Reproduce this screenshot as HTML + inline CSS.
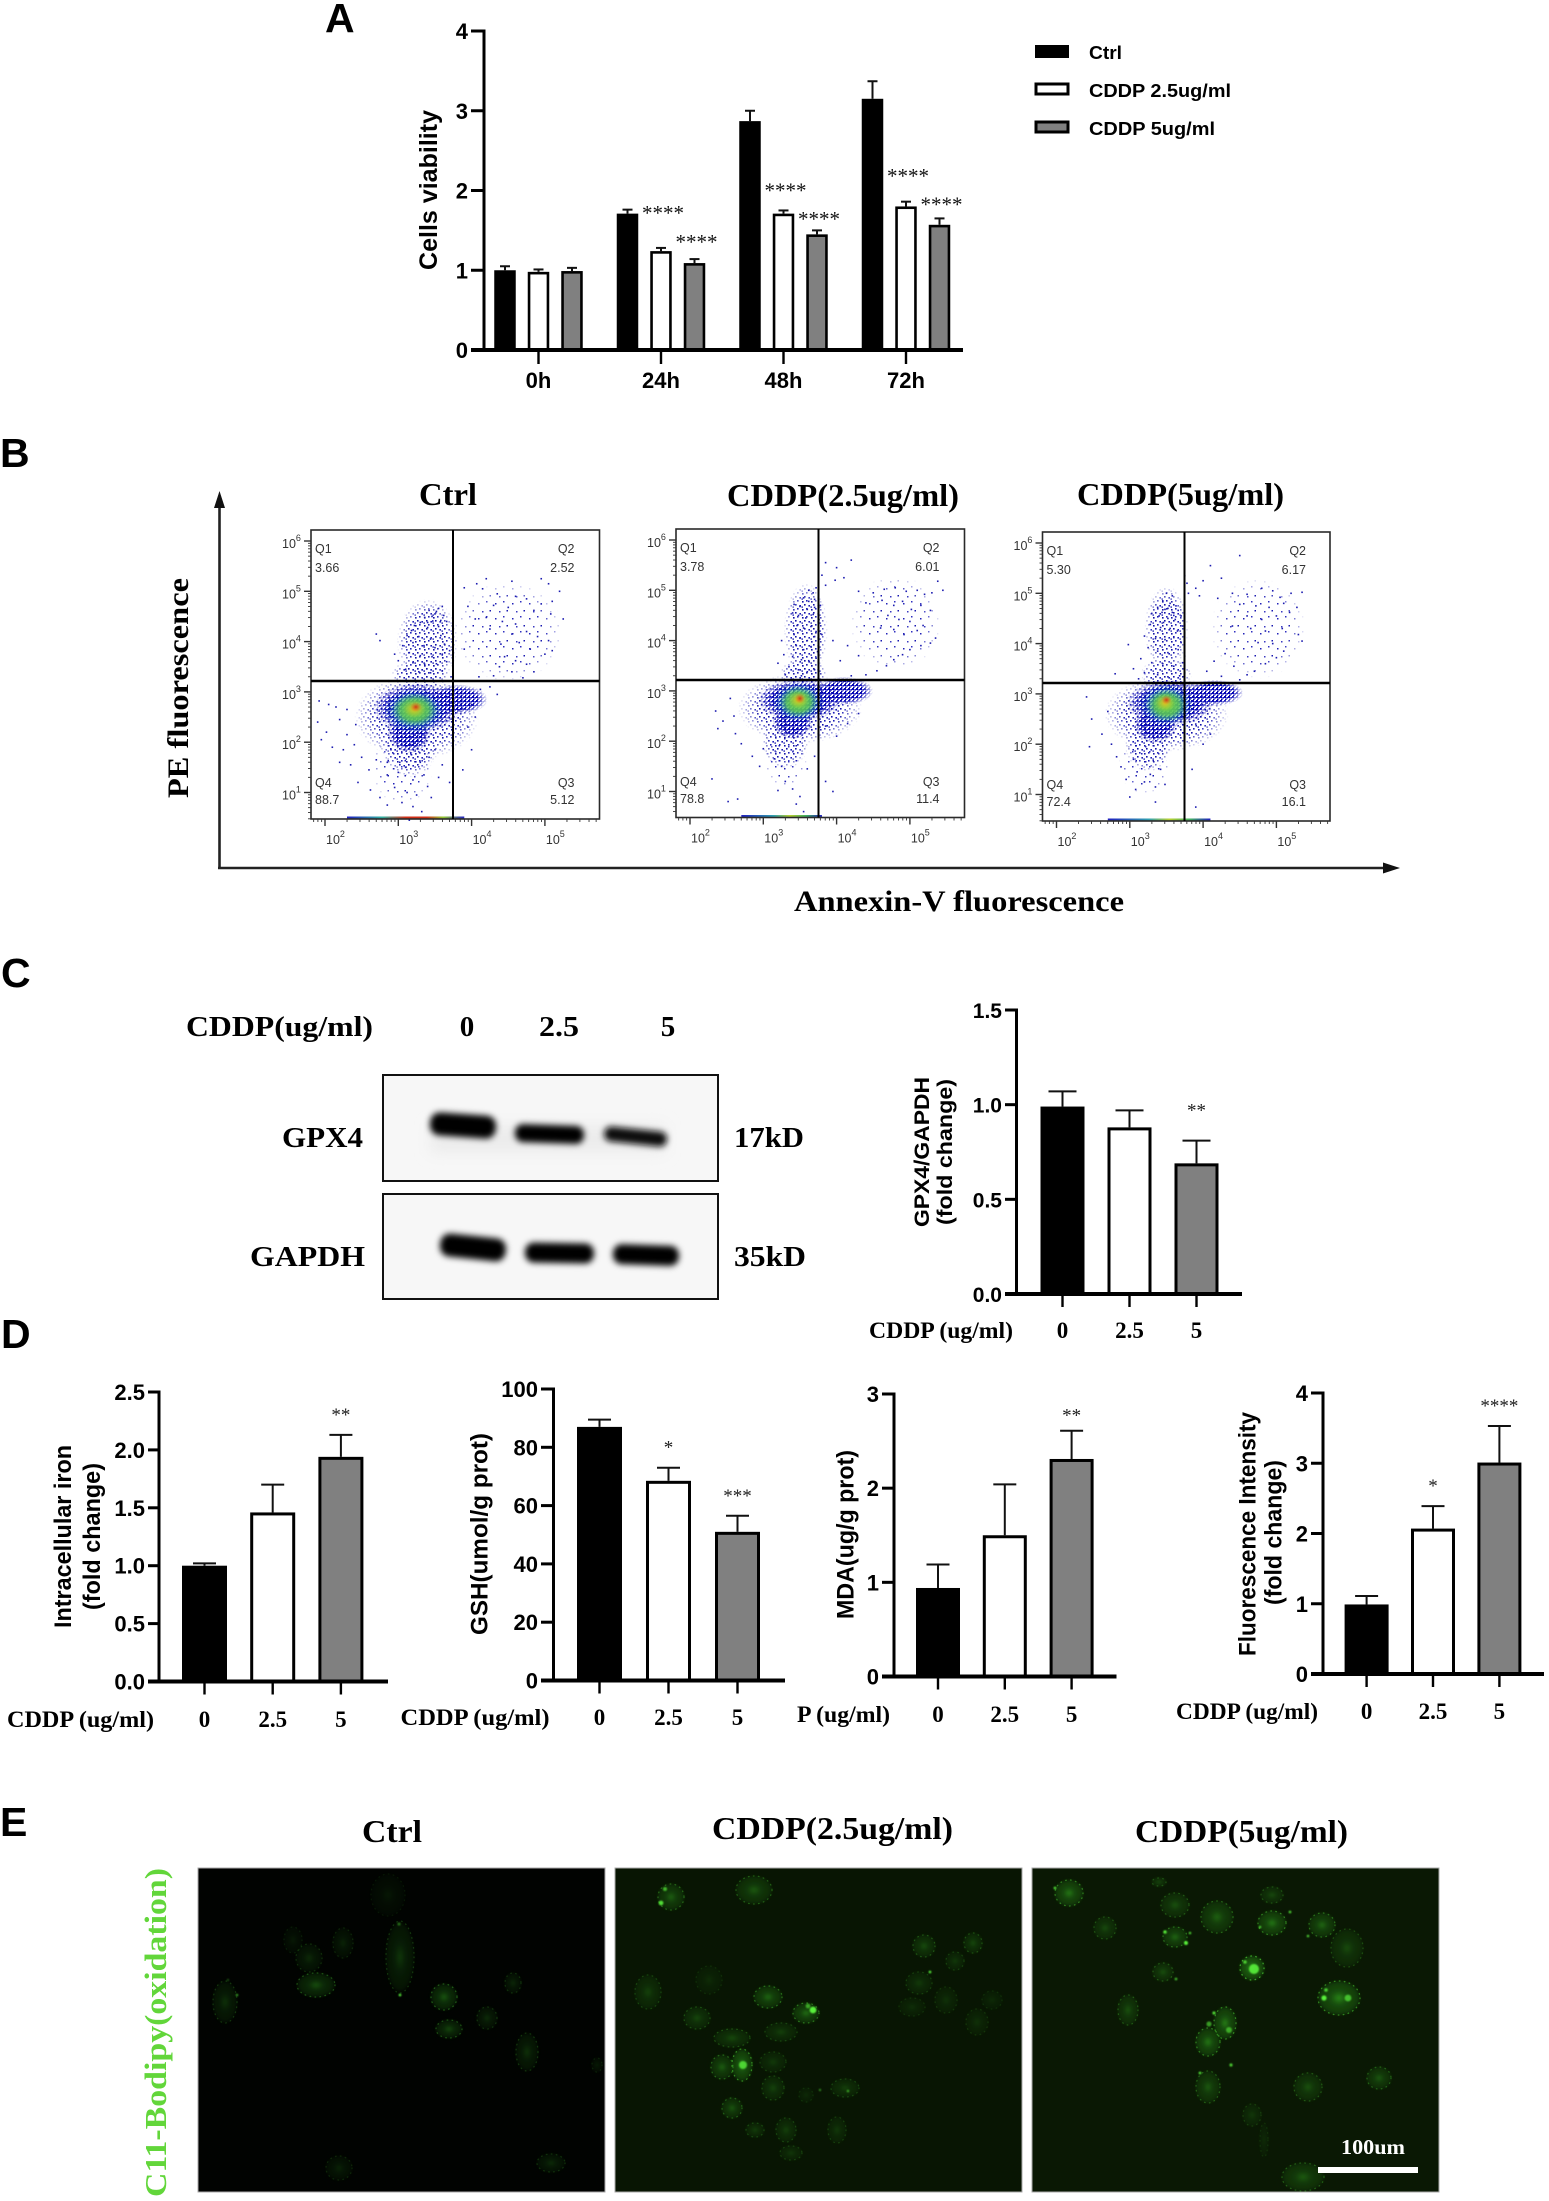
<!DOCTYPE html>
<html lang="en">
<head>
<meta charset="utf-8">
<title>Cisplatin viability, apoptosis and ferroptosis figure</title>
<style>
html,body{margin:0;padding:0;background:#fff}
svg{display:block}
.sans{font-family:"Liberation Sans",sans-serif;font-weight:700;fill:#000}
.serif{font-family:"Liberation Serif",serif;font-weight:700;fill:#000}
.panel-letter{font-family:"Liberation Sans",sans-serif;font-weight:700;font-size:41px;fill:#000}
.title{font-family:"Liberation Serif",serif;font-weight:700;font-size:32px;fill:#000}
.flow{font-family:"Liberation Sans",sans-serif;font-size:12.5px;fill:#333}
</style>
</head>
<body>
<svg id="fig" xmlns="http://www.w3.org/2000/svg" width="1549" height="2201" viewBox="0 0 1549 2201">
<defs>
  <pattern id="dotsFaint" width="17" height="15" patternUnits="userSpaceOnUse">
    <rect x="2" y="3" width="1.5" height="1.5" fill="#2222b8"/><rect x="10" y="1" width="1.5" height="1.5" fill="#3030c0"/>
    <rect x="13.5" y="10" width="1.5" height="1.5" fill="#1818b0"/><rect x="6" y="11" width="1.5" height="1.5" fill="#3a3ac0"/>
  </pattern>
  <pattern id="dotsSparse" width="9" height="8" patternUnits="userSpaceOnUse">
    <rect x="1" y="1" width="1.6" height="1.6" fill="#1414a8"/><rect x="5" y="0" width="1.6" height="1.6" fill="#2020b8"/>
    <rect x="3" y="4" width="1.6" height="1.6" fill="#1010a8"/><rect x="7.4" y="5" width="1.6" height="1.6" fill="#1a1ab8"/>
    <rect x="0.4" y="6.3" width="1.6" height="1.6" fill="#4a4ac0"/>
  </pattern>
  <pattern id="dotsDense" width="4" height="4" patternUnits="userSpaceOnUse">
    <rect x="0" y="0" width="2" height="2" fill="#0606b4"/><rect x="2.4" y="1" width="1.6" height="1.6" fill="#0c0cc0"/>
    <rect x="1" y="2.6" width="1.6" height="1.4" fill="#0404a8"/>
  </pattern>
  <radialGradient id="softEdge"><stop offset="0.65" stop-color="#fff"/><stop offset="1" stop-color="#000"/></radialGradient>
  <mask id="fadeMask" maskContentUnits="objectBoundingBox" x="0" y="0" width="1" height="1"><rect width="1" height="1" fill="url(#softEdge)"/></mask>
  <radialGradient id="lvlTeal"><stop offset="0" stop-color="#28b0a0" stop-opacity=".9"/><stop offset="1" stop-color="#2080c0" stop-opacity="0"/></radialGradient>
  <radialGradient id="lvlGreen"><stop offset="0" stop-color="#78d83c" stop-opacity=".95"/><stop offset=".6" stop-color="#5cc850" stop-opacity=".8"/><stop offset="1" stop-color="#30b088" stop-opacity="0"/></radialGradient>
  <radialGradient id="lvlYellow"><stop offset="0" stop-color="#e0c020"/><stop offset="1" stop-color="#c0d030" stop-opacity="0"/></radialGradient>
  <radialGradient id="lvlRed"><stop offset="0" stop-color="#d03818"/><stop offset="1" stop-color="#e07020" stop-opacity="0"/></radialGradient>
  <linearGradient id="railCtrl"><stop offset="0" stop-color="#2020c0"/><stop offset=".3" stop-color="#30b0a0"/><stop offset=".5" stop-color="#d03018"/><stop offset=".68" stop-color="#d03018"/><stop offset=".82" stop-color="#90c830"/><stop offset="1" stop-color="#2020c0"/></linearGradient>
  <linearGradient id="railLow"><stop offset="0" stop-color="#2020c0"/><stop offset=".4" stop-color="#30a0b0"/><stop offset=".6" stop-color="#b8d030"/><stop offset=".8" stop-color="#40b060"/><stop offset="1" stop-color="#2020c0"/></linearGradient>
  <radialGradient id="cellGlow"><stop offset="0" stop-color="#3ccc24" stop-opacity=".85"/><stop offset=".4" stop-color="#2fa81e" stop-opacity=".5"/><stop offset=".85" stop-color="#2a9a1a" stop-opacity=".38"/><stop offset="1" stop-color="#2a9018" stop-opacity="0"/></radialGradient>
  <filter id="soft1" x="-20%" y="-20%" width="140%" height="140%"><feGaussianBlur stdDeviation="1.4"/></filter>
  <filter id="softSpot" x="-60%" y="-60%" width="220%" height="220%"><feGaussianBlur stdDeviation="0.7"/></filter>
  <filter id="softBand" x="-20%" y="-80%" width="140%" height="260%"><feGaussianBlur stdDeviation="3.2"/></filter>
  <filter id="softFaint" x="-30%" y="-60%" width="160%" height="220%"><feGaussianBlur stdDeviation="7"/></filter>
  <clipPath id="clipMicroCtrl"><rect x="198" y="1868" width="407" height="324"/></clipPath>
  <clipPath id="clipMicro25"><rect x="615" y="1868" width="407" height="324"/></clipPath>
  <clipPath id="clipMicro5"><rect x="1032" y="1868" width="407" height="324"/></clipPath>
</defs>

<rect width="1549" height="2201" fill="#fff"/>

<!-- panel letters -->
<text class="panel-letter" x="325" y="32">A</text>
<text class="panel-letter" x="0" y="467">B</text>
<text class="panel-letter" x="1" y="987">C</text>
<text class="panel-letter" x="1" y="1348">D</text>
<text class="panel-letter" x="0" y="1836">E</text>

<!-- panel A -->
<g id="chartA"></g>
<text class="sans" font-size="25" text-anchor="middle" textLength="160" lengthAdjust="spacingAndGlyphs" transform="translate(437,190) rotate(-90)">Cells viability</text>
<g>
  <rect x="1036" y="46" width="32" height="11" fill="#000" stroke="#000" stroke-width="2"/>
  <text class="sans" font-size="18" x="1089" y="59" textLength="33" lengthAdjust="spacingAndGlyphs">Ctrl</text>
  <rect x="1036" y="84" width="32" height="10" fill="#fff" stroke="#000" stroke-width="3"/>
  <text class="sans" font-size="18" x="1089" y="97" textLength="142" lengthAdjust="spacingAndGlyphs">CDDP 2.5ug/ml</text>
  <rect x="1036" y="122" width="32" height="10" fill="#808080" stroke="#000" stroke-width="3"/>
  <text class="sans" font-size="18" x="1089" y="135" textLength="126" lengthAdjust="spacingAndGlyphs">CDDP 5ug/ml</text>
</g>

<!-- panel B -->
<g>
  <line x1="219.5" y1="868" x2="219.5" y2="505" stroke="#222" stroke-width="2.6"/>
  <polygon points="219.5,491 214,508 225,508" fill="#111"/>
  <line x1="218" y1="868" x2="1386" y2="868" stroke="#222" stroke-width="2.6"/>
  <polygon points="1400,868 1383,862.5 1383,873.5" fill="#111"/>
</g>
<text class="serif" font-size="30" text-anchor="middle" textLength="220" lengthAdjust="spacingAndGlyphs" transform="translate(188,688) rotate(-90)">PE fluorescence</text>
<text class="serif" font-size="30" x="794" y="911" textLength="330" lengthAdjust="spacingAndGlyphs">Annexin-V fluorescence</text>
<text class="title" x="419" y="505" textLength="58" lengthAdjust="spacingAndGlyphs">Ctrl</text>
<text class="title" x="727" y="506" textLength="232" lengthAdjust="spacingAndGlyphs">CDDP(2.5ug/ml)</text>
<text class="title" x="1077" y="505" textLength="207" lengthAdjust="spacingAndGlyphs">CDDP(5ug/ml)</text>
<g id="flowCtrl"></g>
<g id="flow25"></g>
<g id="flow5"></g>

<!-- panel C blot -->
<text class="serif" font-size="29" x="186" y="1036" textLength="187" lengthAdjust="spacingAndGlyphs">CDDP(ug/ml)</text>
<text class="serif" font-size="29" x="467" y="1036" text-anchor="middle">0</text>
<text class="serif" font-size="29" x="559" y="1036" text-anchor="middle" textLength="40" lengthAdjust="spacingAndGlyphs">2.5</text>
<text class="serif" font-size="29" x="668" y="1036" text-anchor="middle">5</text>
<g>
  <rect x="383" y="1075" width="335" height="106" fill="#f7f7f7" stroke="#111" stroke-width="2"/>
  <rect x="430" y="1125" width="235" height="28" fill="#ececec" filter="url(#softFaint)"/>
  <rect x="430" y="1114" width="66" height="23" rx="10" fill="#000" filter="url(#softBand)" transform="rotate(4 463 1125)"/>
  <rect x="515" y="1125" width="69" height="18" rx="8" fill="#000" filter="url(#softBand)" transform="rotate(2 549 1133)"/>
  <rect x="604" y="1129" width="63" height="15" rx="7" fill="#0c0c0c" filter="url(#softBand)" transform="rotate(6 635 1137)"/>
</g>
<g>
  <rect x="383" y="1194" width="335" height="105" fill="#f7f7f7" stroke="#111" stroke-width="2"/>
  <rect x="440" y="1236" width="66" height="23" rx="10" fill="#000" filter="url(#softBand)" transform="rotate(6 473 1247)"/>
  <rect x="525" y="1243" width="69" height="20" rx="9" fill="#000" filter="url(#softBand)" transform="rotate(1 559 1252)"/>
  <rect x="613" y="1245" width="66" height="20" rx="9" fill="#000" filter="url(#softBand)" transform="rotate(2 646 1254)"/>
</g>
<text class="serif" font-size="29" x="282" y="1147" textLength="81" lengthAdjust="spacingAndGlyphs">GPX4</text>
<text class="serif" font-size="29" x="250" y="1266" textLength="115" lengthAdjust="spacingAndGlyphs">GAPDH</text>
<text class="serif" font-size="29" x="734" y="1147" textLength="70" lengthAdjust="spacingAndGlyphs">17kD</text>
<text class="serif" font-size="29" x="734" y="1266" textLength="72" lengthAdjust="spacingAndGlyphs">35kD</text>

<!-- bar charts C and D -->
<g id="chartGpx4"></g>
<text class="sans" font-size="21" text-anchor="middle" textLength="150" lengthAdjust="spacingAndGlyphs" transform="translate(929,1152) rotate(-90)">GPX4/GAPDH</text>
<text class="sans" font-size="21" text-anchor="middle" textLength="146" lengthAdjust="spacingAndGlyphs" transform="translate(952,1152) rotate(-90)">(fold change)</text>
<text class="serif" font-size="23" x="869" y="1338" textLength="144" lengthAdjust="spacingAndGlyphs">CDDP (ug/ml)</text>

<g id="chartIron"></g>
<text class="sans" font-size="24" text-anchor="middle" textLength="183" lengthAdjust="spacingAndGlyphs" transform="translate(71,1536.5) rotate(-90)">Intracellular iron</text>
<text class="sans" font-size="24" text-anchor="middle" textLength="147" lengthAdjust="spacingAndGlyphs" transform="translate(100,1536.5) rotate(-90)">(fold change)</text>
<text class="serif" font-size="23" x="7" y="1727" textLength="147" lengthAdjust="spacingAndGlyphs">CDDP (ug/ml)</text>

<g id="chartGsh"></g>
<text class="sans" font-size="24" text-anchor="middle" textLength="202" lengthAdjust="spacingAndGlyphs" transform="translate(487.5,1534) rotate(-90)">GSH(umol/g prot)</text>
<text class="serif" font-size="23" x="400.5" y="1725" textLength="149" lengthAdjust="spacingAndGlyphs">CDDP (ug/ml)</text>

<g id="chartMda"></g>
<text class="sans" font-size="24" text-anchor="middle" textLength="169" lengthAdjust="spacingAndGlyphs" transform="translate(853.5,1534.5) rotate(-90)">MDA(ug/g prot)</text>
<text class="serif" font-size="23" x="797" y="1722" textLength="93" lengthAdjust="spacingAndGlyphs">P (ug/ml)</text>

<g id="chartFluor"></g>
<text class="sans" font-size="24" text-anchor="middle" textLength="244" lengthAdjust="spacingAndGlyphs" transform="translate(1255.5,1534) rotate(-90)">Fluorescence Intensity</text>
<text class="sans" font-size="24" text-anchor="middle" textLength="145" lengthAdjust="spacingAndGlyphs" transform="translate(1281.5,1532.5) rotate(-90)">(fold change)</text>
<text class="serif" font-size="23" x="1176" y="1719" textLength="142" lengthAdjust="spacingAndGlyphs">CDDP (ug/ml)</text>

<!-- panel E -->
<text class="title" x="362" y="1842" textLength="60" lengthAdjust="spacingAndGlyphs">Ctrl</text>
<text class="title" x="712" y="1839" textLength="241" lengthAdjust="spacingAndGlyphs">CDDP(2.5ug/ml)</text>
<text class="title" x="1135" y="1842" textLength="213" lengthAdjust="spacingAndGlyphs">CDDP(5ug/ml)</text>
<text font-family="'Liberation Serif',serif" font-weight="700" font-size="31" fill="#62d63a" text-anchor="middle" textLength="329" lengthAdjust="spacingAndGlyphs" transform="translate(166,2032.5) rotate(-90)">C11-Bodipy(oxidation)</text>
<g id="microCtrl">
  <rect x="198" y="1868" width="407" height="324" fill="#010301" stroke="#aaa" stroke-width="1"/>
</g>
<g id="micro25">
  <rect x="615" y="1868" width="407" height="324" fill="#081503" stroke="#aaa" stroke-width="1"/>
</g>
<g id="micro5">
  <rect x="1032" y="1868" width="407" height="324" fill="#0a1804" stroke="#aaa" stroke-width="1"/>
</g>
<rect x="1318" y="2167" width="100" height="6" fill="#fff"/>
<text class="serif" style="fill:#fff" font-size="21" x="1341" y="2154" textLength="64" lengthAdjust="spacingAndGlyphs">100um</text>
</svg>

<script>
/* ---------- Panel A data ---------- */
const timeCategories = ['0h', '24h', '48h', '72h'];
const viabilityTicks = [0, 1, 2, 3, 4];
const ctrlMeans = [1.0, 1.71, 2.87, 3.15];
const ctrlTips = [1.05, 1.76, 3.0, 3.37];
const cddp25Means = [0.98, 1.24, 1.71, 1.80];
const cddp25Tips = [1.01, 1.28, 1.75, 1.86];
const cddp5Means = [0.99, 1.09, 1.45, 1.57];
const cddp5Tips = [1.03, 1.14, 1.50, 1.65];
const cddp25StarLevels = [null, 1.755, 2.04, 2.22];
const cddp5StarLevels = [null, 1.39, 1.68, 1.86];
const starTextA = '****';

/* ---------- Panels C, D data ---------- */
const doseCategories = ['0', '2.5', '5'];
const gpx4Means = [0.99, 0.88, 0.69];
const gpx4Tips = [1.07, 0.97, 0.81];
const gpx4Stars = ['', '', '**'];
const gpx4Ticks = ['0.0', '0.5', '1.0', '1.5'];
const ironMeans = [1.0, 1.46, 1.94];
const ironTips = [1.02, 1.70, 2.13];
const ironStars = ['', '', '**'];
const ironTicks = ['0.0', '0.5', '1.0', '1.5', '2.0', '2.5'];
const gshMeans = [87, 68.5, 51];
const gshTips = [89.5, 73, 56.5];
const gshStars = ['', '*', '***'];
const gshTicks = ['0', '20', '40', '60', '80', '100'];
const mdaMeans = [0.94, 1.5, 2.31];
const mdaTips = [1.19, 2.04, 2.61];
const mdaStars = ['', '', '**'];
const mdaTicks = ['0', '1', '2', '3'];
const fluorMeans = [0.99, 2.07, 3.01];
const fluorTips = [1.11, 2.39, 3.53];
const fluorStars = ['', '*', '****'];
const fluorTicks = ['0', '1', '2', '3', '4'];

/* ---------- Panel B data: log10 fluorescence ---------- */
const ctrlQuadrants = ['3.66', '2.52', '5.12', '88.7'];
const cddp25Quadrants = ['3.78', '6.01', '11.4', '78.8'];
const cddp5Quadrants = ['5.30', '6.17', '16.1', '72.4'];
const ctrlEvents = [[3.42,4.62],[3.5,4.55],[3.36,4.48],[3.55,4.66],[3.6,4.7],[3.47,4.41],[3.3,4.38],[3.62,4.52],[3.22,4.32],[3.4,4.28],[3.55,4.3],[3.18,4.22],[3.66,4.4],[3.12,4.12],[3.28,4.1],[3.44,4.05],[3.58,4.12],[3.2,3.98],[3.35,3.92],[3.5,3.88],[3.63,3.95],[3.06,3.92],[3.15,3.78],[3.3,3.72],[3.46,3.7],[3.6,3.75],[3.7,3.82],[3.0,3.62],[3.2,3.58],[3.36,3.55],[3.52,3.56],[3.66,3.6],[2.7,4.15],[2.75,4.02],[2.95,3.75],[3.1,3.45],[3.28,3.4],[3.44,3.38],[3.6,3.42],[3.72,3.3],[3.52,4.6],[3.46,4.5],[3.58,4.42],[3.4,4.38],
[4.2,5.25],[4.07,5.15],[3.9,5.07],[4.15,5.05],[4.55,5.2],[4.95,5.25],[5.05,5.15],[5.2,5.0],[4.35,4.95],[4.6,4.9],[4.75,4.85],[4.95,4.75],[5.1,4.8],[3.95,4.7],[4.3,4.72],[4.5,4.68],[4.85,4.62],[5.08,4.55],[5.25,4.45],[4.05,4.45],[4.2,4.48],[4.42,4.4],[4.6,4.35],[4.75,4.2],[4.55,4.15],[4.9,4.1],[5.05,4.02],[4.25,4.25],[4.4,3.95],[4.65,3.98],[4.8,3.85],[5.0,3.75],[5.1,3.82],[3.9,3.85],[4.45,3.7],[4.6,3.62],[4.75,3.55],[4.38,3.5],[4.55,3.4],[4.85,3.4],[4.1,3.3],[4.3,3.32],[4.7,3.28],
[1.92,2.82],[2.05,2.75],[2.15,2.7],[2.3,2.65],[1.9,2.4],[2.02,2.2],[1.95,2.05],[2.2,2.45],[2.3,2.15],[2.42,2.35],[2.1,1.9],[2.25,1.85],[2.4,1.95],[2.35,1.55],[2.5,1.7],[2.6,1.45],[2.2,1.6],[2.45,1.2],[2.62,1.05],[2.75,0.9],[2.85,0.75],
[2.85,1.35],[3.0,1.4],[3.1,1.5],[3.2,1.25],[3.35,1.35],[2.95,1.1],[3.12,1.0],[3.25,0.95],[3.4,1.12],[3.05,0.8],[3.2,0.72],[3.32,0.62],[3.45,0.9],[3.55,1.3],[3.6,1.55],[3.7,1.2],[3.15,0.45],[3.02,1.6],[3.18,1.75],[3.3,1.6],[3.42,1.7],[2.85,1.6],[2.7,1.65],[2.9,1.85],[3.5,1.85],
[3.9,2.9],[4.0,2.75],[4.12,3.05],[4.25,3.1],[4.35,2.95],[4.05,2.5],[3.95,2.3],[4.0,1.85],[3.88,1.45]];
const cddp25Events = [[3.62,5.0],[3.68,4.95],[3.72,5.05],[3.55,4.85],[3.62,4.78],[3.7,4.82],[3.42,4.72],[3.5,4.68],[3.6,4.62],[3.7,4.66],[3.78,4.7],[3.4,4.55],[3.48,4.5],[3.58,4.45],[3.68,4.52],[3.76,4.42],[3.46,4.3],[3.55,4.25],[3.65,4.28],[3.72,4.18],[3.42,4.12],[3.5,4.05],[3.6,4.0],[3.7,4.08],[3.8,4.12],[3.25,4.0],[3.45,3.9],[3.55,3.82],[3.65,3.88],[3.74,3.78],[3.28,3.72],[3.4,3.68],[3.52,3.62],[3.62,3.6],[3.72,3.65],[3.2,3.55],[3.35,3.48],[3.48,3.42],[3.6,3.38],[3.7,3.42],[3.3,3.32],[3.52,3.3],
[3.85,5.1],[3.98,5.2],[4.0,5.45],[3.85,5.55],[4.2,5.6],[3.8,5.3],[4.1,5.25],
[4.3,4.98],[4.5,4.95],[4.65,5.02],[4.8,5.05],[4.95,4.98],[5.1,5.0],[5.2,4.92],[5.3,4.95],[5.38,5.18],[5.45,5.0],[4.4,4.75],[4.62,4.8],[4.78,4.7],[4.9,4.78],[5.02,4.62],[5.15,4.7],[5.28,4.6],[4.7,4.5],[4.85,4.42],[5.0,4.38],[5.18,4.3],[4.6,4.25],[4.78,4.22],[4.92,4.12],[5.1,4.2],[5.35,4.05],[5.28,3.95],[5.15,3.9],[5.0,3.82],[4.9,3.72],[4.78,3.62],[4.68,3.5],[4.55,3.4],[4.4,3.32],[4.2,3.3],[4.05,3.6],[4.15,3.9],[3.95,4.0],[4.3,3.7],
[2.35,2.6],[2.45,2.4],[2.38,2.25],[2.55,2.85],[2.6,2.5],[2.62,2.15],[2.7,1.95],[2.85,1.7],[2.95,1.5],[3.0,1.85],[3.15,1.65],[3.25,1.5],[3.3,1.2],[3.4,1.05],[3.5,0.9],[3.45,0.75],[3.55,0.6],[3.2,1.02],[2.65,0.85],[2.52,0.8],[2.3,1.25],[3.6,1.45],[3.7,1.7],[3.95,1.0],[3.85,1.2],[4.0,2.1],[3.85,2.3],[4.15,2.35],[4.3,2.55]];
const cddp5Events = [[3.5,5.0],[3.58,4.95],[3.45,4.85],[3.55,4.8],[3.63,4.75],[3.38,4.72],[3.48,4.68],[3.58,4.62],[3.66,4.66],[3.3,4.6],[3.4,4.55],[3.52,4.5],[3.62,4.48],[3.7,4.55],[3.28,4.38],[3.42,4.32],[3.55,4.3],[3.65,4.25],[3.72,4.35],[3.2,4.15],[3.35,4.1],[3.48,4.08],[3.6,4.12],[3.7,4.02],[3.25,3.92],[3.38,3.85],[3.52,3.82],[3.66,3.88],[3.75,3.75],[2.98,3.98],[3.15,3.7],[3.3,3.62],[3.45,3.6],[3.6,3.55],[3.72,3.62],[2.8,3.4],[3.05,3.5],[3.2,3.42],[3.38,3.38],[3.52,3.34],[3.68,3.36],[3.12,3.3],[3.44,4.62],[3.52,4.7],[3.6,4.56],[3.46,4.42],
[3.78,5.2],[3.75,5.35],[3.9,5.1],[4.0,5.25],[4.1,5.55],[4.5,5.75],[4.25,5.3],[3.8,5.0],[3.95,4.95],[4.2,4.9],
[4.4,5.0],[4.6,4.98],[4.8,5.1],[4.95,5.05],[5.05,4.92],[5.2,5.0],[5.35,5.02],[4.5,4.78],[4.72,4.75],[4.9,4.72],[5.1,4.8],[5.28,4.72],[4.6,4.55],[4.8,4.48],[5.0,4.55],[5.18,4.62],[4.4,4.35],[4.65,4.3],[4.85,4.25],[5.08,4.3],[5.3,4.18],[5.35,4.05],[4.95,4.0],[4.75,4.02],[5.1,3.85],[5.0,3.72],[4.85,3.6],[4.7,3.45],[4.6,3.38],[4.42,3.55],[4.3,3.8],[4.15,3.65],[4.05,3.45],[4.25,3.35],[4.5,3.28],
[2.41,2.94],[2.48,2.5],[2.62,2.2],[2.45,1.95],[2.7,2.65],[2.75,2.0],[2.82,1.75],[2.88,1.55],[2.95,1.3],[3.05,1.7],[3.1,1.45],[3.2,1.25],[3.08,1.1],[3.28,1.4],[3.35,1.15],[3.42,1.5],[3.48,1.2],[3.0,0.95],[3.35,0.85],[3.85,1.5],[3.9,0.75],[4.0,2.0],[4.1,2.2],[3.9,2.4]];
/* density contours: log x, log y, half-width and half-height in decades, density level */
const ctrlDensity = [[4.5,4.2,0.75,1.0,6],[3.4,4.0,0.42,0.85,0],[3.05,1.5,0.42,0.75,6],[3.25,2.5,0.85,0.85,0],[3.15,1.9,0.38,0.6,0],[3.3,3.35,0.4,0.3,0],[3.25,2.68,0.6,0.5,1],[3.8,2.85,0.42,0.3,1],[3.15,2.2,0.3,0.42,1],[3.22,2.62,0.42,0.45,2],[3.22,2.64,0.32,0.34,3],[3.22,2.66,0.16,0.18,4],[3.24,2.7,0.08,0.1,5]];
const cddp25Density = [[4.8,4.35,0.62,0.95,6],[3.58,4.2,0.3,0.95,0],[3.3,1.7,0.3,0.65,6],[3.5,2.65,0.85,0.7,0],[3.3,2.0,0.32,0.55,0],[3.55,3.35,0.32,0.3,0],[3.5,2.82,0.58,0.42,1],[4.1,3.0,0.4,0.28,1],[3.4,2.4,0.28,0.36,1],[3.48,2.78,0.36,0.4,2],[3.48,2.78,0.27,0.32,3],[3.48,2.82,0.14,0.17,4],[3.5,2.85,0.07,0.1,5]];
const cddp5Density = [[4.75,4.3,0.65,1.0,6],[3.5,4.3,0.3,0.85,0],[3.2,1.6,0.35,0.6,6],[3.5,2.6,0.85,0.75,0],[3.25,2.0,0.32,0.55,0],[3.5,3.4,0.35,0.32,0],[3.55,2.82,0.6,0.46,1],[4.15,3.02,0.4,0.26,1],[3.35,2.4,0.3,0.38,1],[3.5,2.78,0.38,0.42,2],[3.5,2.78,0.28,0.33,3],[3.48,2.82,0.14,0.17,4],[3.5,2.88,0.07,0.09,5]];

/* ---------- Panel E: fluorescent cell spots seen in each micrograph ---------- */
const microCtrlCells = [[388,1895,18,22,.12],[293,1940,10,14,.14],[343,1943,11,16,.2],[309,1958,14,15,.24],[400,1957,15,37,.3],[316,1985,20,13,.45],[225,2002,13,22,.28],[444,1997,14,14,.5],[513,1983,9,11,.24],[487,2018,11,12,.26],[449,2029,14,10,.42],[527,2052,12,20,.28],[597,2065,6,8,.16],[339,2168,14,13,.2],[551,2163,15,10,.25]];
const microCtrlSpots = [[400,1995,1.4,.9],[399,1924,1.6,.4],[237,1995,1.3,.6],[228,1980,1.2,.3]];
const micro25Cells = [[671,1897,14,14,.5],[754,1890,19,15,.45],[648,1992,14,18,.3],[709,1980,14,15,.16],[768,1997,15,12,.55],[806,2013,14,11,.6],[697,2018,14,12,.35],[781,2032,17,10,.3],[732,2038,19,10,.36],[722,2067,12,13,.5],[742,2065,11,17,.75],[773,2062,14,11,.26],[773,2088,12,13,.32],[845,2088,15,10,.3],[806,2095,8,8,.16],[732,2108,11,11,.45],[755,2130,10,8,.3],[786,2130,11,13,.3],[837,2130,10,14,.25],[791,2153,12,8,.25],[924,1946,12,12,.38],[973,1943,10,11,.36],[955,1961,10,10,.26],[919,1983,14,12,.26],[946,2000,12,14,.2],[912,2007,14,10,.18],[992,2000,11,10,.16],[977,2022,12,14,.2]];
const micro25Spots = [[813,2010,3.4,1],[808,2006,2.4,.6],[743,2065,4,.8],[661,1903,2.4,.9],[665,1889,2,.7],[930,1972,1.4,.9],[848,2091,1.3,.6],[820,2090,1.2,.5]];
const micro5Cells = [[1069,1893,15,14,.65],[1159,1882,8,5,.35],[1175,1905,15,13,.4],[1217,1917,17,17,.5],[1272,1895,12,9,.36],[1272,1923,15,13,.65],[1322,1925,14,13,.55],[1105,1928,12,12,.36],[1175,1937,13,11,.55],[1347,1948,17,20,.34],[1252,1968,13,13,.9],[1163,1972,11,10,.4],[1339,1998,22,18,.72],[1128,2010,11,16,.4],[1225,2023,12,17,.7],[1208,2042,13,15,.65],[1208,2087,13,17,.45],[1308,2087,15,15,.4],[1379,2078,13,12,.45],[1252,2115,10,12,.24],[1264,2140,5,18,.15],[1303,2177,22,15,.45]];
const micro5Spots = [[1186,1943,2,1],[1165,1932,1.8,.9],[1254,1969,5,.9],[1245,1962,1.8,.8],[1324,1998,2.6,1],[1326,1990,1.8,.8],[1348,1998,3.4,.7],[1214,2013,1.6,.9],[1231,2065,1.6,.8],[1229,2030,3,.6],[1200,2073,1.4,.9],[1190,1933,1.3,.8],[1260,1927,1.3,.8],[1290,1912,1.4,.8],[1308,1936,1.3,.8],[1055,1888,1.4,.9],[1176,1979,1.4,.7],[1209,2024,2.6,.6],[1320,2170,1.3,.6]];

/* ---------- helpers ---------- */
const NS = 'http://www.w3.org/2000/svg';
function mk(parent, tag, attrs, text) {
  const node = document.createElementNS(NS, tag);
  for (const k in attrs) node.setAttribute(k, attrs[k]);
  if (text !== undefined) node.textContent = text;
  parent.appendChild(node);
  return node;
}
const SANS = '"Liberation Sans",sans-serif';
const SERIF = '"Liberation Serif",serif';

function drawAxes(g, o, y, tickVals, tickLabels) {
  let el = mk(g, 'line', {x1: o.axisX, y1: o.y0 + 1, x2: o.axisX, y2: o.yTop - 1.5, stroke: '#000', 'stroke-width': 3});
  
  
  tickVals.forEach((v, i) => {
    let t = mk(g, 'line', {x1: o.tickLeft, y1: y(v), x2: o.axisX, y2: y(v), stroke: '#000', 'stroke-width': 3});
    
    
    let l = mk(g, 'text', {x: o.tickLeft - 3, y: y(v) + 8, 'text-anchor': 'end', 'font-family': SANS, 'font-weight': 700, 'font-size': o.tickSize || 22}, tickLabels[i]);
    
    
  });
  el = mk(g, 'line', {x1: o.tickLeft, y1: o.y0, x2: o.xRight, y2: o.y0, stroke: '#000', 'stroke-width': 4});
  
  
}

function drawBar(g, cx, w, y, mean, tip, y0, capW, fill, sw) {
  const top = y(mean);
  let e = mk(g, 'line', {x1: cx, y1: top, x2: cx, y2: y(tip), stroke: '#111', 'stroke-width': 2});
  
  
  let c = mk(g, 'line', {x1: cx - capW / 2, y1: y(tip), x2: cx + capW / 2, y2: y(tip), stroke: '#111', 'stroke-width': 2});
  
  
  let b = mk(g, 'rect', {x: cx - w / 2 + sw / 2, y: top + sw / 2, width: w - sw, height: Math.max(0, y0 - top - sw / 2), fill: fill, stroke: '#000', 'stroke-width': sw});
  
  
}

const seriesFills = ['#000', '#fff', '#808080'];

/* small three-bar charts in panels C and D */
function doseChart(id, o, categories, means, tips, stars, ticks) {
  const g = document.getElementById(id);
  const yMax = parseFloat(ticks[ticks.length - 1]);
  const y = v => o.y0 - (v / yMax) * (o.y0 - o.yTop);
  const x = i => o.firstCenter + i * o.step;
  means.forEach((m, i) => drawBar(g, x(i), o.barW, y, m, tips[i], o.y0, o.capW, seriesFills[i], 3));
  drawAxes(g, o, y, ticks.map(parseFloat), ticks);
  categories.forEach((c, i) => {
    let t = mk(g, 'line', {x1: x(i), y1: o.y0, x2: x(i), y2: o.y0 + o.tickDown, stroke: '#000', 'stroke-width': 2.4});
    
    
    let l = mk(g, 'text', {x: x(i), y: o.labelY, 'text-anchor': 'middle', 'font-family': SERIF, 'font-weight': 700, 'font-size': 23}, c);
    
    
    if (stars[i]) {
      let s = mk(g, 'text', {x: x(i), y: y(tips[i]) - o.starGap + 9, 'text-anchor': 'middle', 'font-family': SERIF, 'font-size': 19, fill: '#222'}, stars[i]);
      
      
    }
  });
}

doseChart('chartGpx4', {axisX: 1016.5, tickLeft: 1005, xRight: 1242, y0: 1294, yTop: 1010, firstCenter: 1062.5, step: 67, barW: 44, capW: 28, tickDown: 13, labelY: 1338, starGap: 33, tickSize: 21}, doseCategories, gpx4Means, gpx4Tips, gpx4Stars, gpx4Ticks);
doseChart('chartIron', {axisX: 159, tickLeft: 148, xRight: 388, y0: 1681.5, yTop: 1392, firstCenter: 204.5, step: 68.2, barW: 45, capW: 23, tickDown: 13, labelY: 1727, starGap: 23}, doseCategories, ironMeans, ironTips, ironStars, ironTicks);
doseChart('chartGsh', {axisX: 553.5, tickLeft: 541, xRight: 785, y0: 1680.5, yTop: 1389, firstCenter: 599.5, step: 69, barW: 45, capW: 23, tickDown: 13, labelY: 1725, starGap: 23}, doseCategories, gshMeans, gshTips, gshStars, gshTicks);
doseChart('chartMda', {axisX: 894, tickLeft: 882, xRight: 1116.5, y0: 1676.5, yTop: 1394, firstCenter: 938, step: 66.8, barW: 44, capW: 23, tickDown: 13, labelY: 1722, starGap: 18}, doseCategories, mdaMeans, mdaTips, mdaStars, mdaTicks);
doseChart('chartFluor', {axisX: 1323, tickLeft: 1311, xRight: 1544, y0: 1674, yTop: 1393, firstCenter: 1366.6, step: 66.4, barW: 44, capW: 23, tickDown: 13, labelY: 1719, starGap: 23}, doseCategories, fluorMeans, fluorTips, fluorStars, fluorTicks);

/* panel A grouped chart */
(function () {
  const g = document.getElementById('chartA');
  const o = {axisX: 484, tickLeft: 471, xRight: 963, y0: 350, yTop: 31};
  const y = v => o.y0 - (v / 4) * (o.y0 - o.yTop);
  const groupX = i => 538.5 + i * 122.5;
  const offset = s => (s - 1) * 33.5;
  const means = [ctrlMeans, cddp25Means, cddp5Means];
  const tips = [ctrlTips, cddp25Tips, cddp5Tips];
  means.forEach((series, s) => series.forEach((m, i) => drawBar(g, groupX(i) + offset(s), 21.5, y, m, tips[s][i], o.y0, 10, seriesFills[s], 2.6)));
  drawAxes(g, o, y, viabilityTicks, viabilityTicks.map(String));
  timeCategories.forEach((c, i) => {
    let t = mk(g, 'line', {x1: groupX(i), y1: o.y0, x2: groupX(i), y2: o.y0 + 14, stroke: '#000', 'stroke-width': 2.4});
    
    
    let l = mk(g, 'text', {x: groupX(i), y: 388, 'text-anchor': 'middle', 'font-family': SANS, 'font-weight': 700, 'font-size': 22}, c);
    
    
  });
  [[cddp25StarLevels, 1], [cddp5StarLevels, 2]].forEach(pair => pair[0].forEach((lvl, i) => {
    if (lvl === null) return;
    let s = mk(g, 'text', {x: groupX(i) + offset(pair[1]) + 2, y: y(lvl) + 10, 'text-anchor': 'middle', 'font-family': SERIF, 'font-size': 21, fill: '#111'}, starTextA);
    
    
  }));
})();

/* panel B flow plots */
function flowPlot(id, box, events, density, quadrants, railFill, railX0, railX1) {
  const g = document.getElementById(id);
  const px = lx => box.l + 14 + (lx - 2) * 73.3;
  const py = ly => box.t + 11 + (6 - ly) * 50.3;
  const rx = d => d * 73.3;
  const ry = d => d * 50.3;
  const fills = ['url(#dotsSparse)', 'url(#dotsDense)', 'url(#lvlTeal)', 'url(#lvlGreen)', 'url(#lvlYellow)', 'url(#lvlRed)', 'url(#dotsFaint)'];
  density.forEach(d => {
    const attrs = {cx: px(d[0]), cy: py(d[1]), rx: rx(d[2]), ry: ry(d[3]), fill: fills[d[4]]};
    if (d[4] < 2 || d[4] === 6) attrs.mask = 'url(#fadeMask)';
    let c = mk(g, 'ellipse', attrs);
    
    
  });
  events.forEach(p => {
    let dot = mk(g, 'rect', {x: px(p[0]) - 0.8, y: py(p[1]) - 0.8, width: 1.6, height: 1.6, fill: '#1c1cb0'});
    
    
  });
  let rail = mk(g, 'rect', {x: px(railX0), y: box.b - 2.5, width: px(railX1) - px(railX0), height: 2.5, fill: railFill});
  
  
  let frame = mk(g, 'rect', {x: box.l, y: box.t, width: box.r - box.l, height: box.b - box.t, fill: 'none', stroke: '#2a2a2a', 'stroke-width': 1.6});
  
  
  let gateV = mk(g, 'line', {x1: box.vx, y1: box.t, x2: box.vx, y2: box.b, stroke: '#000', 'stroke-width': 2});
  
  
  let gateH = mk(g, 'line', {x1: box.l, y1: box.hy, x2: box.r, y2: box.hy, stroke: '#000', 'stroke-width': 2.4});
  
  

  const logTopY = 6 + 11 / 50.3, logBottomY = 6 - (box.b - box.t - 11) / 50.3;
  const logLeftX = 2 - 14 / 73.3, logRightX = 2 + (box.r - box.l - 14) / 73.3;
  for (let d = 0; d <= 6; d++) for (let m = 1; m <= 9; m++) {
    const v = d + Math.log10(m);
    if (v <= logTopY && v >= logBottomY) {
      let t = mk(g, 'line', {x1: box.l - (m === 1 ? 7 : 3), y1: py(v), x2: box.l, y2: py(v), stroke: '#333', 'stroke-width': m === 1 ? 1.4 : 0.9});
      
      
    }
    if (v <= logRightX && v >= logLeftX) {
      let t = mk(g, 'line', {x1: px(v), y1: box.b, x2: px(v), y2: box.b + (m === 1 ? 7 : 3), stroke: '#333', 'stroke-width': m === 1 ? 1.4 : 0.9});
      
      
    }
  }
  [1, 2, 3, 4, 5, 6].forEach(d => {
    let t = mk(g, 'text', {x: box.l - 29, y: py(d) + 7, class: 'flow', 'font-size': 12}, '10');
    mk(t, 'tspan', {dy: -7, 'font-size': 9}, String(d));
    
    
  });
  [2, 3, 4, 5].forEach(d => {
    let t = mk(g, 'text', {x: px(d) + 1, y: box.b + 25, class: 'flow', 'font-size': 12}, '10');
    mk(t, 'tspan', {dy: -7, 'font-size': 9}, String(d));
    
    
  });
  const names = ['Q1', 'Q2', 'Q3', 'Q4'];
  const placeLeft = [true, false, false, true];
  const rowTop = [true, true, false, false];
  names.forEach((n, i) => {
    const tx = placeLeft[i] ? box.l + 4 : box.l + 263.5;
    const anchor = placeLeft[i] ? 'start' : 'end';
    const y1 = box.t + (rowTop[i] ? 23 : 257);
    const y2 = box.t + (rowTop[i] ? 42 : 274);
    let a = mk(g, 'text', {x: tx, y: y1, 'text-anchor': anchor, class: 'flow'}, n);
    
    
    let b = mk(g, 'text', {x: tx, y: y2, 'text-anchor': anchor, class: 'flow'}, quadrants[i]);
    
    
  });
}
flowPlot('flowCtrl', {l: 311, r: 599.5, t: 530, b: 819, vx: 453, hy: 681}, ctrlEvents, ctrlDensity, ctrlQuadrants, 'url(#railCtrl)', 2.3, 3.9);
flowPlot('flow25', {l: 676, r: 964.5, t: 529, b: 817.5, vx: 818.5, hy: 680}, cddp25Events, cddp25Density, cddp25Quadrants, 'url(#railLow)', 2.7, 3.8);
flowPlot('flow5', {l: 1042.5, r: 1330, t: 532, b: 821, vx: 1184.5, hy: 683}, cddp5Events, cddp5Density, cddp5Quadrants, 'url(#railLow)', 2.7, 4.1);

/* panel E micrographs */
function micrograph(id, clip, cells, spots) {
  const root = document.getElementById(id);
  const g = mk(root, 'g', {'clip-path': 'url(#' + clip + ')'});
  
  
  cells.forEach(c => {
    let e = mk(g, 'ellipse', {cx: c[0], cy: c[1], rx: c[2], ry: c[3], fill: 'url(#cellGlow)', opacity: c[4], filter: 'url(#soft1)'});
    
    
    let rim = mk(g, 'ellipse', {cx: c[0], cy: c[1], rx: c[2] - 1, ry: c[3] - 1, fill: 'none', stroke: '#4ed838', 'stroke-width': 1.3, 'stroke-linecap': 'round', 'stroke-dasharray': '0.6 4.4', opacity: c[4] * 0.75});
    
    
  });
  spots.forEach(s => {
    let e = mk(g, 'circle', {cx: s[0], cy: s[1], r: s[2], fill: '#58f03a', opacity: s[3], filter: 'url(#softSpot)'});
    
    
  });
}
micrograph('microCtrl', 'clipMicroCtrl', microCtrlCells, microCtrlSpots);
micrograph('micro25', 'clipMicro25', micro25Cells, micro25Spots);
micrograph('micro5', 'clipMicro5', micro5Cells, micro5Spots);
</script>
</body>
</html>
